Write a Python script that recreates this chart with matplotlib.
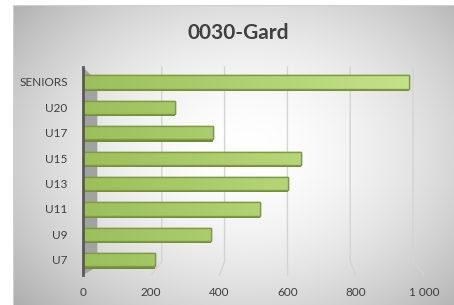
import numpy as np
import matplotlib
matplotlib.use("Agg")
import matplotlib.pyplot as plt
from matplotlib.patches import Polygon

categories = ["U7", "U9", "U11", "U13", "U15", "U17", "U20", "SENIORS"]
values = [210, 375, 520, 600, 640, 380, 270, 955]
xticks = [0, 200, 400, 600, 800, 1000]
xtick_labels = ["0", "200", "400", "600", "800", "1 000"]
title = "0030-Gard"

W, H = 454, 305
plt.rcParams['font.family'] = ['Lato', 'DejaVu Sans']
fig = plt.figure(figsize=(W / 100, H / 100), dpi=100)
fig.patch.set_facecolor("white")

def fx(px):
    return px / W

def fy(py):
    return 1 - py / H

# background chart area with radial gradient
bg = fig.add_axes([fx(13), 0, (W - 13) / W, (H - 5) / H])
nx, ny = W - 13, H - 5
xx, yy = np.meshgrid(np.arange(nx) + 13, np.arange(ny) + 5)
r = np.sqrt(((xx - 245) / 250.0) ** 2 + ((yy - 150) / 190.0) ** 2)
g = 1 - 0.22 * np.clip(r, 0, 1.3) ** 1.8
img = np.dstack([g, g, g])
bg.imshow(img, aspect="auto", extent=[0, 1, 0, 1], interpolation="bilinear")
bg.set_xlim(0, 1)
bg.set_ylim(0, 1)
bg.set_xticks([])
bg.set_yticks([])
for s in ["right", "bottom"]:
    bg.spines[s].set_visible(False)
bg.spines["left"].set_color("#d0d0d0")
bg.spines["top"].set_color("#d0d0d0")

fig.text(fx(238), fy(33), title, ha="center", va="center", fontsize=15,
         fontweight="bold", color="#404040")

# main axes
ax_left, ax_right, ax_top, ax_bottom = 83, 424, 67, 275
ax = fig.add_axes([fx(ax_left), fy(ax_bottom), (ax_right - ax_left) / W, (ax_bottom - ax_top) / H])
ax.patch.set_alpha(0)
ypos = np.arange(len(categories))

# side wall (3D look)
wall = Polygon([(0, 0), (0.042, 0.04), (0.042, 0.93), (0, 1.0)], closed=True,
               transform=ax.transAxes, facecolor="#a2a2a2", edgecolor="none", zorder=0.5)
ax.add_patch(wall)

# gridlines: back-wall lines bending to the front floor
for v in xticks[1:]:
    xb_axes = (16 + v * 0.314) / 341.0
    xf_axes = v / 1000.0
    ax.plot([xb_axes, xb_axes, xf_axes], [1.0, 0.065, 0.0], transform=ax.transAxes,
            color="#d4d4d4", lw=1, zorder=0.6, clip_on=False)

# bars with shadow, gradient face, and edge
bh = 0.52
ax.barh(ypos - 0.09, values, height=bh, left=0, color="#6f8a36", edgecolor="none", zorder=2)
bars = ax.barh(ypos, values, height=bh, left=0, color="#a8c868", edgecolor="#7e9d40",
               linewidth=1, zorder=3)
grad = np.linspace(0, 1, 256).reshape(1, -1)
c1 = np.array([0.61, 0.75, 0.36])
c2 = np.array([0.78, 0.89, 0.54])
gimg = c1[None, None, :] * (1 - grad[..., None]) + c2[None, None, :] * grad[..., None]
for b in bars:
    im = ax.imshow(gimg, aspect="auto", extent=[0, 1000, -1, len(categories)],
                   zorder=3.5, interpolation="bilinear")
    im.set_clip_path(b)
    ax.barh(b.get_y() + bh / 2, b.get_width(), height=bh, left=0, color="none",
            edgecolor="#7e9d40", linewidth=1, zorder=4)
ax.set_xlim(0, 1000)
ax.set_ylim(-0.6, len(categories) - 0.41)

ax.set_yticks(ypos)
ax.set_yticklabels(categories)
ax.set_xticks(xticks)
ax.set_xticklabels(xtick_labels)
ax.tick_params(axis="both", length=0, labelsize=8.5, colors="#404040")
ax.tick_params(axis="y", pad=11)
ax.tick_params(axis="x", pad=9)
for s in ["top", "right", "bottom"]:
    ax.spines[s].set_visible(False)
ax.spines["left"].set_color("#595959")
ax.spines["left"].set_linewidth(2)
ax.spines["left"].set_zorder(5)

fig.savefig("out.png", dpi=100, facecolor="white")
